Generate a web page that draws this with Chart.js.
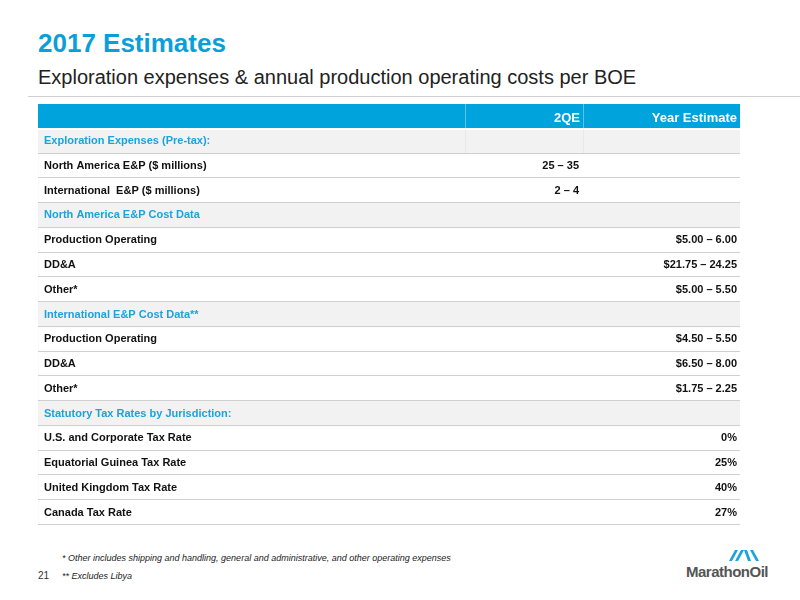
<!DOCTYPE html>
<html><head><meta charset="utf-8">
<script src="https://cdn.jsdelivr.net/npm/chart.js@4"></script>
<style>
body{margin:0;width:800px;height:600px;background:#fff;font-family:"Liberation Sans",Arial,sans-serif;position:relative;overflow:hidden}
.t{position:absolute;left:38px;top:28px;font-size:26px;font-weight:bold;color:#0a9fd9}
.s{position:absolute;left:38px;top:66px;font-size:20px;color:#222}
.hr{position:absolute;left:28px;top:96px;width:772px;height:1px;background:#d0d0d0}
.f{position:absolute;left:62px;font-size:9px;font-style:italic;color:#222}
.n{position:absolute;left:38px;top:570px;font-size:10px;color:#333}
.logo{position:absolute;left:686px;top:563px;font-size:15px;font-weight:bold;color:#555;letter-spacing:-0.5px}
#c{position:absolute;left:38px;top:104px}
</style></head><body>
<div class="t">2017 Estimates</div>
<div class="s">Exploration expenses &amp; annual production operating costs per BOE</div>
<div class="hr"></div>
<canvas id="c" width="702" height="421"></canvas>
<div class="f" style="top:553px">* Other includes shipping and handling, general and administrative, and other operating expenses</div>
<div class="f" style="top:571px">** Excludes Libya</div>
<div class="n">21</div>
<svg style="position:absolute;left:727px;top:548px" width="34" height="14"><g fill="#1aa3dc"><path d="M2 13 L8 2 L11 2 L5 13Z"/><path d="M8 13 L14 2 L17 2 L11 13Z"/><path d="M17 2 L20 2 L24 13 L21 13Z"/><path d="M23 2 L26 2 L32 13 L29 13Z"/></g></svg>
<div class="logo">MarathonOil</div>
<script>
const rows=["HEADER","Exploration Expenses (Pre-tax):","North America E&P ($ millions)","International  E&P ($ millions)","North America E&P Cost Data","Production Operating","DD&A","Other*","International E&P Cost Data**","Production Operating","DD&A","Other*","Statutory Tax Rates by Jurisdiction:","U.S. and Corporate Tax Rate","Equatorial Guinea Tax Rate","United Kingdom Tax Rate","Canada Tax Rate"];
const colQ=["2QE","","25 – 35","2 – 4","","","","","","","","","","","","",""];
const colY=["Year Estimate","","","","","$5.00 – 6.00","$21.75 – 24.25","$5.00 – 5.50","","$4.50 – 5.50","$6.50 – 8.00","$1.75 – 2.25","","0%","25%","40%","27%"];
const isSection=[1,1,0,0,1,0,0,0,1,0,0,0,1,0,0,0,0];
const labels=rows.map((r,i)=>i+":"+r);
const textPlugin={id:'txt',afterDatasetsDraw(ch){
 const c=ch.ctx,y=ch.scales.y,W=ch.width;
 const step=y.getPixelForValue(1)-y.getPixelForValue(0);
 c.save();
 c.fillStyle="#d0d0d0";
 for(let i=1;i<rows.length;i++){const b=Math.round(y.getPixelForValue(i)+step/2);c.fillRect(0,b-1,W,1);}
 const h0=y.getPixelForValue(0);
 c.fillStyle="rgba(255,255,255,0.35)";c.fillRect(427,h0-step/2,1,step);c.fillRect(545,h0-step/2,1,step);
 c.fillStyle="#fff";c.fillRect(0,Math.round(h0+step/2)-1,W,2);
 c.fillStyle="rgba(0,0,0,0.04)";c.fillRect(427,h0+step/2,1,step);c.fillRect(545,h0+step/2,1,step);
 c.textBaseline="middle";
 rows.forEach((r,i)=>{const p=y.getPixelForValue(i);
  if(i===0){c.fillStyle="#fff";c.font="bold 13px 'Liberation Sans',Arial";c.textAlign="right";c.fillText(colQ[0],542,p+2);c.fillText(colY[0],699,p+2);return;}
  c.font="bold 11px 'Liberation Sans',Arial";c.textAlign="left";
  c.fillStyle=isSection[i]?"#1aa3dc":"#111";c.fillText(r,6,p);
  c.fillStyle="#111";c.textAlign="right";
  if(colQ[i])c.fillText(colQ[i],541,p);
  if(colY[i])c.fillText(colY[i],699,p);
 });
 c.restore();}};
new Chart(document.getElementById('c'),{type:'bar',
 data:{labels,datasets:[{data:isSection.map(v=>v?1:0),backgroundColor:isSection.map((v,i)=>i===0?"#00a3dc":"#f2f2f2"),barPercentage:1,categoryPercentage:1,borderWidth:0}]},
 options:{indexAxis:'y',responsive:false,animation:false,devicePixelRatio:1,layout:{padding:0},
  plugins:{legend:{display:false},tooltip:{enabled:false}},
  scales:{x:{display:false,min:0,max:1},y:{display:false}}},
 plugins:[textPlugin]});
</script></body></html>
